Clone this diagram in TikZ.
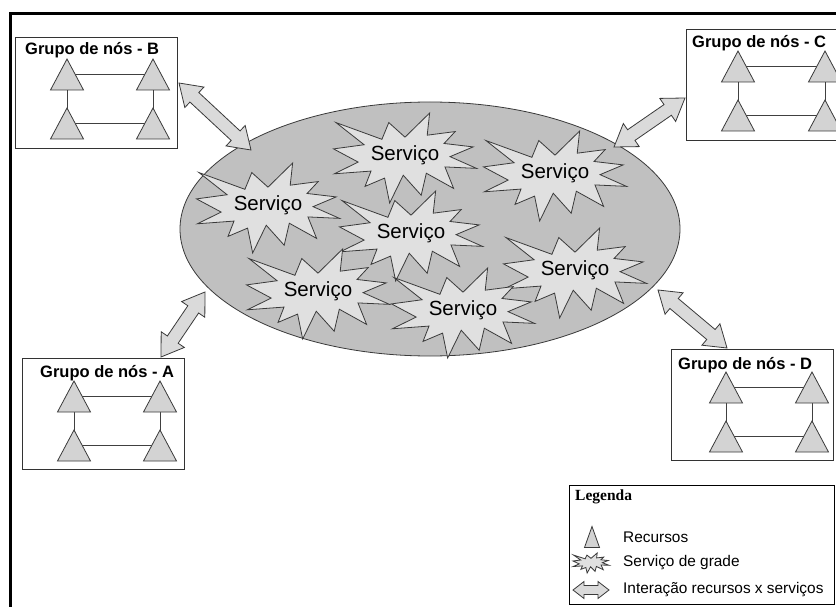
\documentclass[tikz,border=0pt]{standalone}
\usepackage{fontspec}
\setmainfont{Liberation Sans}
\newfontfamily\legendserif{Liberation Serif}
\usetikzlibrary{calc,shapes.geometric}

\definecolor{ellgray}{HTML}{C0C0C0}
\definecolor{burstgray}{HTML}{E0E0E0}
\definecolor{trigray}{HTML}{D3D3D3}
\definecolor{arrowgray}{HTML}{DADADA}
\definecolor{edgegray}{HTML}{3A3A3A}

\tikzset{
  frame/.style={draw=black, line width=3pt},
  grpbox/.style={draw=black!80, line width=0.9pt, fill=white, anchor=north west,
                 inner sep=0pt, minimum width=162pt, minimum height=111pt},
  grptitle/.style={anchor=base west, inner sep=0pt,
                   font=\fontsize{16.5}{18}\selectfont\bfseries},
  resource/.style={draw=edgegray, line width=0.8pt, fill=trigray, line join=miter},
  link/.style={draw=black!75, line width=0.8pt},
  cloud/.style={ellipse, draw=edgegray, line width=0.8pt, fill=ellgray,
                minimum width=500pt, minimum height=254pt, inner sep=0pt},
  burstline/.style={draw=edgegray, line width=0.8pt, fill=burstgray, line join=miter},
  burstlabel/.style={inner sep=0pt, font=\fontsize{20.5}{22}\selectfont},
  interact/.style={draw=edgegray, line width=0.8pt, fill=arrowgray, line join=miter},
  legendbox/.style={draw=black, line width=0.9pt, fill=white, anchor=north west,
                    inner sep=0pt, minimum width=265pt, minimum height=119pt},
  legendtext/.style={anchor=west, inner sep=0pt, font=\fontsize{15.4}{17}\selectfont},
  pics/burst/.style n args={2}{code={
    \draw[burstline, xscale=#1, yscale=#2]
      (0,-50) -- (37.22,-108) -- (33.55,-54.75) -- (75.8,-63.43) -- (59.02,-34.85)
      -- (102.97,-26.63) -- (68.07,-3.25) -- (108,24.9) -- (60.37,21.42)
      -- (73.45,72.95) -- (32.2,36.57) -- (24.47,89.37) -- (-2.68,41.35)
      -- (-23.15,108) -- (-30.85,48.27) -- (-60.38,68.17) -- (-51.33,31.37)
      -- (-106.65,37.87) -- (-70.78,9.75) -- (-108,-21.85) -- (-61.73,-31.83)
      -- (-104.3,-85.05) -- (-34.88,-44.8) -- (-24.48,-85.05) -- cycle;
  }}
}

% resource triangle centred on a named coordinate
\newcommand{\resource}[1]{%
  \draw[resource, shift={(#1)}] (0,-15.5) -- (16.5,15.5) -- (-16.5,15.5) -- cycle;}

% double-headed block arrow: from, to, head length, head half-width, shaft half-width
\newcommand{\interaction}[5]{%
  \draw[interact] (#1)
    -- ($(#1)!#3!(#2)!#4!90:(#2)$)
    -- ($(#1)!#3!(#2)!#5!90:(#2)$)
    -- ($(#2)!#3!(#1)!#5!-90:(#1)$)
    -- ($(#2)!#3!(#1)!#4!-90:(#1)$)
    -- (#2)
    -- ($(#2)!#3!(#1)!#4!90:(#1)$)
    -- ($(#2)!#3!(#1)!#5!90:(#1)$)
    -- ($(#1)!#3!(#2)!#5!-90:(#2)$)
    -- ($(#1)!#3!(#2)!#4!-90:(#2)$)
    -- cycle;}

% one group of four resources
\newcommand{\resgroup}[7]{% name, box corner, title origin, title, left x, right x, top y
  \node[grpbox] (box#1) at #2 {};
  \node[grptitle] (title#1) at #3 {#4};
  \coordinate (#1tl) at (#5,#7);
  \coordinate (#1tr) at (#6,#7);
  \coordinate (#1bl) at (#5,#7+49);
  \coordinate (#1br) at (#6,#7+49);
  \draw[link] (#1tl) -- (#1tr);
  \draw[link] (#1bl) -- (#1br);
  \draw[link] (#1tl) -- (#1bl);
  \draw[link] (#1tr) -- (#1br);
  \resource{#1tl}\resource{#1tr}\resource{#1bl}\resource{#1br}}

\begin{document}
\begin{tikzpicture}[x=1pt, y=-1pt]
  \useasboundingbox[fill=white] (0,0) rectangle (836,607);
  \clip (0,0) rectangle (836,607);

  % outer frame
  \draw[frame] (10,14) rectangle (870,640);

  % groups of nodes
  \resgroup{B}{(15,37)}{(25,55)}{Grupo de nós - B}{67}{153}{74.5}
  \resgroup{A}{(22,358)}{(40,377)}{Grupo de nós - A}{74}{160}{396.5}
  \resgroup{C}{(686,29)}{(692,48)}{Grupo de nós - C}{738}{825}{66.5}
  \resgroup{D}{(671,349)}{(678,369)}{Grupo de nós - D}{726}{812}{387.5}

  % grid services
  \node[cloud] (grid) at (430,229) {};

  \pic at (405,158) {burst={0.662}{0.4167}};
  \node[burstlabel] (s1) at (405,155) {Serviço};
  \pic at (555,176) {burst={0.662}{0.4167}};
  \node[burstlabel] (s2) at (555,173) {Serviço};
  \pic at (268,208) {burst={0.662}{0.4167}};
  \node[burstlabel] (s3) at (268,205) {Serviço};
  \pic at (411,236) {burst={0.662}{0.4167}};
  \node[burstlabel] (s4) at (411,233) {Serviço};
  \pic at (575,273) {burst={0.662}{0.4167}};
  \node[burstlabel] (s5) at (575,270) {Serviço};
  \pic at (318,294) {burst={0.662}{0.4167}};
  \node[burstlabel] (s6) at (318,291) {Serviço};
  \pic at (463,313) {burst={0.662}{0.4167}};
  \node[burstlabel] (s7) at (463,310) {Serviço};

  % interactions between groups and services
  \coordinate (aB1) at (179,83);  \coordinate (aB2) at (251,150);
  \coordinate (aC1) at (685,98);  \coordinate (aC2) at (614,147);
  \coordinate (aA1) at (161,357); \coordinate (aA2) at (205,292);
  \coordinate (aD1) at (727,348); \coordinate (aD2) at (658,290);
  \interaction{aB1}{aB2}{21pt}{14pt}{6.5pt}
  \interaction{aC1}{aC2}{21pt}{14pt}{6.5pt}
  \interaction{aA1}{aA2}{21pt}{14pt}{6.5pt}
  \interaction{aD1}{aD2}{21pt}{14pt}{6.5pt}

  % legend
  \node[legendbox] (legend) at (569,485) {};
  \node[anchor=west, inner sep=0pt, font=\legendserif\bfseries\fontsize{15.5}{17}\selectfont]
    (legtitle) at (575,497) {Legenda};
  \coordinate (legres) at (592,537);
  \draw[resource, shift={(legres)}] (0,-10.5) -- (7.5,10.5) -- (-7.5,10.5) -- cycle;
  \node[legendtext] (legrestext) at (623,537) {Recursos};
  \pic at (591,563) {burst={0.167}{0.093}};
  \node[legendtext] (legsvctext) at (623,563) {Serviço de grade};
  \coordinate (legarr1) at (573,590); \coordinate (legarr2) at (609,590);
  \interaction{legarr1}{legarr2}{11pt}{8.5pt}{4.5pt}
  \node[legendtext] (legarrtext) at (623,590) {Interação recursos x serviços};
\end{tikzpicture}
\end{document}
